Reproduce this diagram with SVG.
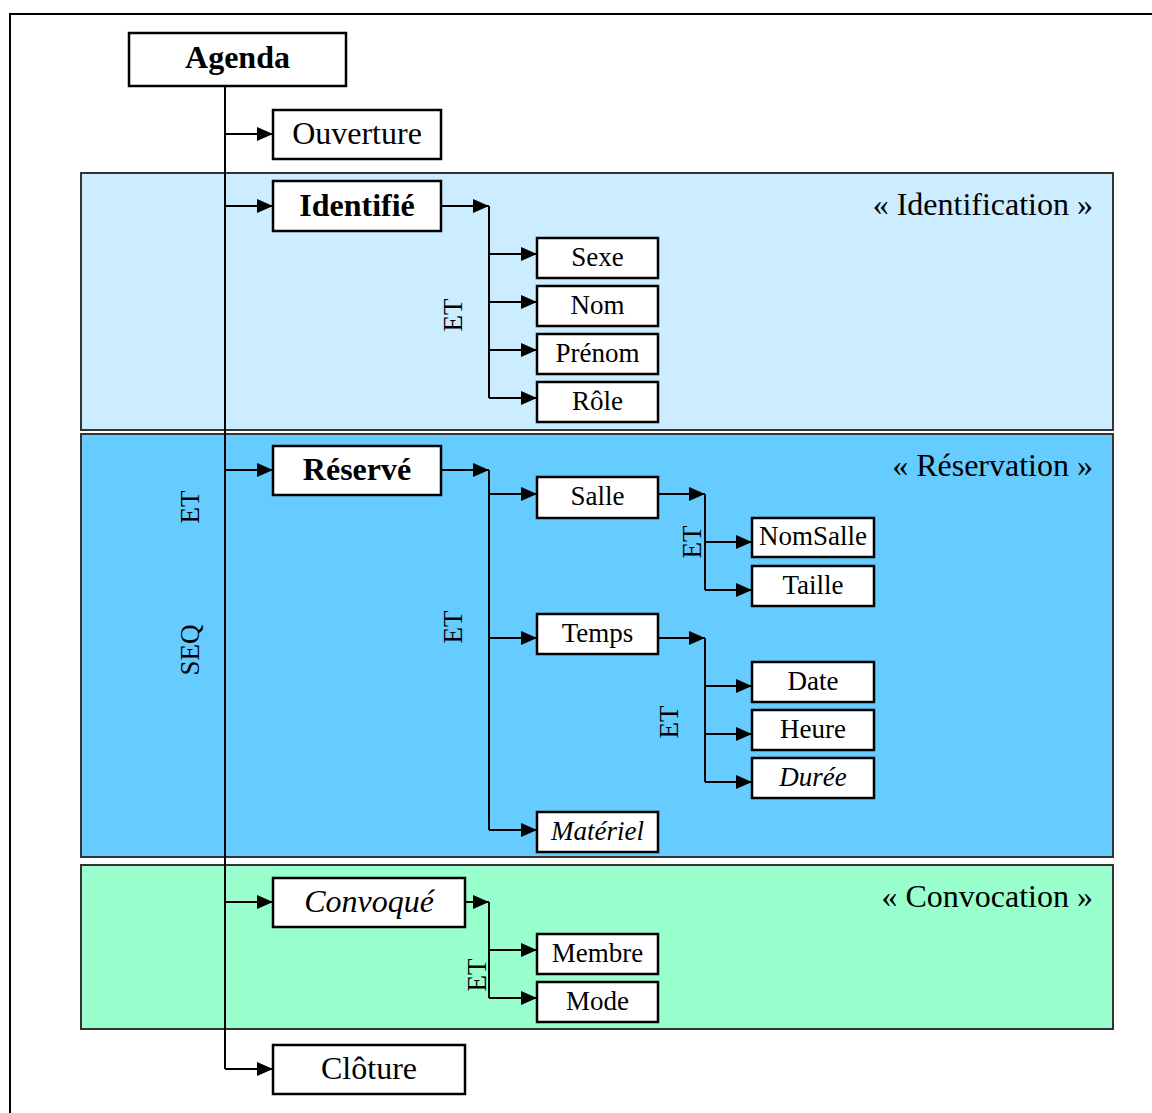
<svg xmlns="http://www.w3.org/2000/svg" width="1152" height="1113" viewBox="0 0 1152 1113">
<defs>
<marker id="ah" viewBox="0 0 16 14" refX="16" refY="7" markerWidth="16" markerHeight="14" markerUnits="userSpaceOnUse" orient="auto">
<path d="M0,0 L16,7 L0,14 z" fill="#000"/>
</marker>
<style>
.box{fill:#fff;stroke:#000;stroke-width:2.5}
.reg{stroke:#333;stroke-width:2}
.t{font-family:"Liberation Serif","Times New Roman",serif;fill:#000;text-anchor:middle;dominant-baseline:central}
.big{font-size:32px}
.sm{font-size:27px}
.b{font-weight:bold}
.i{font-style:italic}
.lbl{font-family:"Liberation Serif","Times New Roman",serif;font-size:32px;fill:#000;text-anchor:end;dominant-baseline:central}
.rot{font-family:"Liberation Serif","Times New Roman",serif;font-size:27px;fill:#000;text-anchor:middle;dominant-baseline:central}
.c{fill:none;stroke:#000;stroke-width:2}
.a{fill:none;stroke:#000;stroke-width:2;marker-end:url(#ah)}
</style>
</defs>
<rect x="0" y="0" width="1152" height="1113" fill="#fff"/>
<path d="M10,1113 V14 H1152" fill="none" stroke="#000" stroke-width="2"/>

<g id="region-identification">
<rect class="reg" x="81" y="173" width="1032" height="257" fill="#CCECFF"/>
<text class="lbl" x="1093" y="204">« Identification »</text>
</g>
<g id="region-reservation">
<rect class="reg" x="81" y="434" width="1032" height="423" fill="#66CCFF"/>
<text class="lbl" x="1093" y="465">« Réservation »</text>
</g>
<g id="region-convocation">
<rect class="reg" x="81" y="865" width="1032" height="164" fill="#99FFCC"/>
<text class="lbl" x="1093" y="896">« Convocation »</text>
</g>

<g id="labels">
<text class="rot" transform="translate(190,507) rotate(-90)">ET</text>
<text class="rot" transform="translate(190,650) rotate(-90)">SEQ</text>
<text class="rot" transform="translate(453,315) rotate(-90)">ET</text>
<text class="rot" transform="translate(453,627) rotate(-90)">ET</text>
<text class="rot" transform="translate(692,542) rotate(-90)">ET</text>
<text class="rot" transform="translate(669,722) rotate(-90)">ET</text>
<text class="rot" transform="translate(477,975) rotate(-90)">ET</text>
</g>

<g id="connectors">
<path class="c" d="M225,86 V1069"/>
<path class="a" d="M225,134 H273"/>
<path class="a" d="M225,206 H273"/>
<path class="a" d="M225,470 H273"/>
<path class="a" d="M225,902 H273"/>
<path class="a" d="M225,1069 H273"/>

<path class="a" d="M441,206 H489"/>
<path class="c" d="M489,206 V398"/>
<path class="a" d="M489,254 H537"/>
<path class="a" d="M489,302 H537"/>
<path class="a" d="M489,350 H537"/>
<path class="a" d="M489,398 H537"/>

<path class="a" d="M441,470 H489"/>
<path class="c" d="M489,470 V830"/>
<path class="a" d="M489,494 H537"/>
<path class="a" d="M489,638 H537"/>
<path class="a" d="M489,830 H537"/>

<path class="a" d="M658,494 H705"/>
<path class="c" d="M705,494 V590"/>
<path class="a" d="M705,542 H752"/>
<path class="a" d="M705,590 H752"/>

<path class="a" d="M658,638 H705"/>
<path class="c" d="M705,638 V782"/>
<path class="a" d="M705,686 H752"/>
<path class="a" d="M705,734 H752"/>
<path class="a" d="M705,782 H752"/>

<path class="a" d="M465,902 H489"/>
<path class="c" d="M489,902 V998"/>
<path class="a" d="M489,950 H537"/>
<path class="a" d="M489,998 H537"/>
</g>

<g id="agenda"><rect class="box" x="129" y="33" width="217" height="53"/><text class="t big b" x="237.5" y="57">Agenda</text></g>
<g id="ouverture"><rect class="box" x="273" y="110" width="168" height="49"/><text class="t big" x="357" y="133">Ouverture</text></g>
<g id="identifie"><rect class="box" x="273" y="181" width="168" height="50"/><text class="t big b" x="357" y="205">Identifié</text></g>
<g id="sexe"><rect class="box" x="537" y="238" width="121" height="40"/><text class="t sm" x="597.5" y="257">Sexe</text></g>
<g id="nom"><rect class="box" x="537" y="286" width="121" height="40"/><text class="t sm" x="597.5" y="305">Nom</text></g>
<g id="prenom"><rect class="box" x="537" y="334" width="121" height="40"/><text class="t sm" x="597.5" y="353">Prénom</text></g>
<g id="role"><rect class="box" x="537" y="382" width="121" height="40"/><text class="t sm" x="597.5" y="401">Rôle</text></g>

<g id="reserve"><rect class="box" x="273" y="446" width="168" height="49"/><text class="t big b" x="357" y="469">Réservé</text></g>
<g id="salle"><rect class="box" x="537" y="477" width="121" height="41"/><text class="t sm" x="597.5" y="496">Salle</text></g>
<g id="nomsalle"><rect class="box" x="752" y="518" width="122" height="39"/><text class="t sm" x="813" y="536">NomSalle</text></g>
<g id="taille"><rect class="box" x="752" y="566" width="122" height="40"/><text class="t sm" x="813" y="585">Taille</text></g>
<g id="temps"><rect class="box" x="537" y="614" width="121" height="40"/><text class="t sm" x="597.5" y="633">Temps</text></g>
<g id="date"><rect class="box" x="752" y="662" width="122" height="40"/><text class="t sm" x="813" y="681">Date</text></g>
<g id="heure"><rect class="box" x="752" y="710" width="122" height="40"/><text class="t sm" x="813" y="729">Heure</text></g>
<g id="duree"><rect class="box" x="752" y="758" width="122" height="40"/><text class="t sm i" x="813" y="777">Durée</text></g>
<g id="materiel"><rect class="box" x="537" y="812" width="121" height="40"/><text class="t sm i" x="597.5" y="831">Matériel</text></g>

<g id="convoque"><rect class="box" x="273" y="878" width="192" height="49"/><text class="t big i" x="369" y="901">Convoqué</text></g>
<g id="membre"><rect class="box" x="537" y="934" width="121" height="40"/><text class="t sm" x="597.5" y="953">Membre</text></g>
<g id="mode"><rect class="box" x="537" y="982" width="121" height="40"/><text class="t sm" x="597.5" y="1001">Mode</text></g>

<g id="cloture"><rect class="box" x="273" y="1045" width="192" height="49"/><text class="t big" x="369" y="1068">Clôture</text></g>
</svg>
